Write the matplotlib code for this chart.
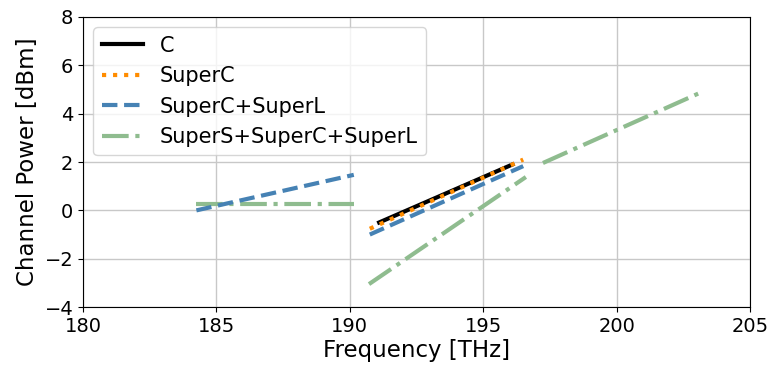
import matplotlib
matplotlib.use("Agg")
import matplotlib.pyplot as plt

# Channel power versus frequency for each band configuration (segment endpoints)
c_freq = [191.1, 196.1]
c_power = [-0.5, 1.9]

superc_freq = [190.75, 196.5]
superc_power = [-0.76, 2.1]

supercl_l_freq = [184.25, 190.15]
supercl_l_power = [0.0, 1.47]
supercl_c_freq = [190.75, 196.5]
supercl_c_power = [-1.0, 1.83]

superscl_l_freq = [184.25, 190.15]
superscl_l_power = [0.26, 0.26]
superscl_c_freq = [190.72, 196.6]
superscl_c_power = [-3.05, 1.38]
superscl_s_freq = [197.24, 203.2]
superscl_s_power = [1.96, 4.9]

x_ticks = [180, 185, 190, 195, 200, 205]
y_ticks = [-4, -2, 0, 2, 4, 6, 8]

fig = plt.figure(figsize=(7.72, 3.66), dpi=100)
ax = fig.add_axes([0.1075, 0.161, 0.864, 0.7926])

lw = 3
ax.plot(c_freq, c_power, color="black", lw=lw, ls="-", label="C", zorder=3)
ax.plot(superc_freq, superc_power, color="darkorange", lw=lw, ls=":", label="SuperC", zorder=4)
ax.plot(supercl_l_freq, supercl_l_power, color="steelblue", lw=lw, ls="--", label="SuperC+SuperL", zorder=2)
ax.plot(supercl_c_freq, supercl_c_power, color="steelblue", lw=lw, ls="--", zorder=2)
ax.plot(superscl_l_freq, superscl_l_power, color="darkseagreen", lw=lw, ls="-.", label="SuperS+SuperC+SuperL", zorder=1)
ax.plot(superscl_c_freq, superscl_c_power, color="darkseagreen", lw=lw, ls="-.", zorder=1)
ax.plot(superscl_s_freq, superscl_s_power, color="darkseagreen", lw=lw, ls="-.", zorder=1)

ax.set_xlim(180, 205)
ax.set_ylim(-4, 8)
ax.set_xticks(x_ticks)
ax.set_yticks(y_ticks)
ax.tick_params(labelsize=14)
ax.grid(True, color="#c8c8c8", lw=1)
ax.set_axisbelow(True)
ax.set_xlabel("Frequency [THz]", fontsize=16.5, labelpad=2)
ax.set_ylabel("Channel Power [dBm]", fontsize=16.5, labelpad=4)
ax.legend(loc="upper left", fontsize=15, framealpha=0.8,
          handlelength=2.0, labelspacing=0.5, borderaxespad=0.5)

fig.savefig("out.png", dpi=100)
